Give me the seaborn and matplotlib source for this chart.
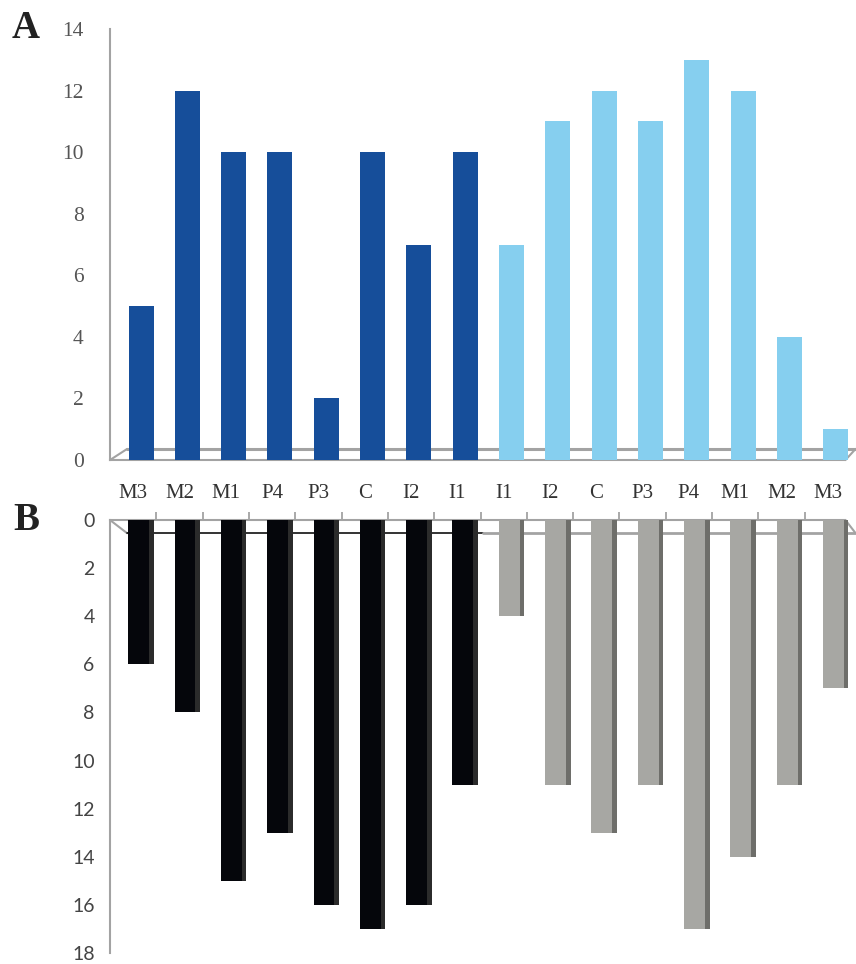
import matplotlib
matplotlib.use("Agg")
import matplotlib.pyplot as plt
from matplotlib.font_manager import FontProperties
import seaborn as sns
import pandas as pd
import numpy as np

categories = ["M3", "M2", "M1", "P4", "P3", "C", "I2", "I1",
              "I1", "I2", "C", "P3", "P4", "M1", "M2", "M3"]
side = ["left"] * 8 + ["right"] * 8
values_a = [5, 12, 10, 10, 2, 10, 7, 10, 7, 11, 12, 11, 13, 12, 4, 1]
values_b = [6, 8, 15, 13, 16, 17, 16, 11, 4, 11, 13, 11, 17, 14, 11, 7]
yticks_a = [0, 2, 4, 6, 8, 10, 12, 14]
yticks_b = [0, 2, 4, 6, 8, 10, 12, 14, 16, 18]

df = pd.DataFrame({"pos": list(range(len(categories))), "cat": categories,
                   "side": side, "a": values_a, "b": values_b})

sns.set_style("white")
plt.rcParams["font.family"] = ["Liberation Serif", "DejaVu Serif"]

fig = plt.figure(figsize=(8.56, 9.64), dpi=100)
W, H = 856, 964
axA = fig.add_axes([110 / W, 1 - 460 / H, 741 / W, 431 / H])
axB = fig.add_axes([110 / W, 1 - 953 / H, 741 / W, 433 / H])

spine_col = "#A3A3A3"
SHIFT = 0.17

# ---------- Panel A ----------
sns.barplot(data=df, x="pos", y="a", hue="side", dodge=False, width=0.54,
            palette={"left": "#164E9A", "right": "#86CFEF"}, legend=False,
            saturation=1, ax=axA, zorder=3)
for p in axA.patches:
    p.set_x(p.get_x() + SHIFT)
    p.set_edgecolor("none")
axA.set_xlim(-0.5, 15.5)
axA.set_ylim(0, 14)
axA.set_yticks(yticks_a)
axA.set_yticklabels([str(t) for t in yticks_a])
axA.set_xticks(range(len(categories)))
axA.set_xticklabels(categories)
axA.set_xticks(np.arange(0.5, 15.4, 1), minor=True)
axA.tick_params(axis="x", which="major", length=0, pad=17, labelcolor="#333333",
                labelfontfamily="Liberation Serif", labelsize=15)
axA.tick_params(axis="x", which="minor", length=6, direction="out", color=spine_col, width=1.3)
axA.tick_params(axis="y", length=7, direction="out", color=spine_col, width=1.3, pad=12,
                labelcolor="#555555", labelfontfamily="Liberation Serif", labelsize=15.5)
axA.set_xlabel("")
axA.set_ylabel("")
for s in ["top", "right"]:
    axA.spines[s].set_visible(False)
for s in ["left", "bottom"]:
    axA.spines[s].set_color(spine_col)
    axA.spines[s].set_linewidth(1.5)
axA.spines["bottom"].set_bounds(-0.5, 15.38)
# floor
axA.plot([-0.5, -0.13], [0, 0.36], color=spine_col, lw=1.5, clip_on=False, zorder=2)
axA.plot([-0.13, 15.6], [0.36, 0.36], color=spine_col, lw=2.2, clip_on=False, zorder=2)
axA.plot([15.38, 15.6], [0.0, 0.36], color=spine_col, lw=1.5, clip_on=False, zorder=2)

# ---------- Panel B ----------
sns.barplot(data=df, x="pos", y="b", hue="side", dodge=False, width=0.55,
            palette={"left": "#2b2b2b", "right": "#6E6E6A"}, legend=False,
            saturation=1, ax=axB, zorder=3)
n_side = len(axB.patches)
sns.barplot(data=df, x="pos", y="b", hue="side", dodge=False, width=0.45,
            palette={"left": "#05060B", "right": "#A7A7A3"}, legend=False,
            saturation=1, ax=axB, zorder=4)
for i, p in enumerate(axB.patches):
    p.set_edgecolor("none")
    if i < n_side:
        p.set_x(p.get_x() + SHIFT)
    else:
        p.set_x(p.get_x() + SHIFT - 0.05)
axB.set_xlim(-0.5, 15.5)
axB.set_ylim(18, 0)
axB.set_yticks(yticks_b)
axB.set_yticklabels([str(t) for t in yticks_b])
axB.set_xticks(np.arange(0.5, 15.4, 1))
axB.set_xticklabels([])
axB.xaxis.set_ticks_position("top")
axB.tick_params(axis="x", length=6, direction="out", color=spine_col, width=1.3)
axB.tick_params(axis="y", length=5, direction="out", color=spine_col, width=1.3, pad=6,
                labelcolor="#444444", labelfontfamily="Lato", labelsize=14)
axB.set_xlabel("")
axB.set_ylabel("")
for s in ["bottom", "right"]:
    axB.spines[s].set_visible(False)
for s in ["left", "top"]:
    axB.spines[s].set_color(spine_col)
    axB.spines[s].set_linewidth(1.5)
axB.spines["top"].set_bounds(-0.5, 15.38)
axB.plot([-0.5, -0.13], [0, 0.55], color=spine_col, lw=1.5, clip_on=False, zorder=2)
axB.plot([-0.13, 7.55], [0.55, 0.55], color="#111111", lw=1.2, clip_on=False, zorder=2)
axB.plot([7.55, 15.6], [0.55, 0.55], color=spine_col, lw=2.0, clip_on=False, zorder=2)
axB.plot([15.38, 15.6], [0.0, 0.55], color=spine_col, lw=1.5, clip_on=False, zorder=2)

# panel letters
fig.text(12 / W, 1 - 38 / H, "A", fontproperties=FontProperties(
    family=["Liberation Serif"], size=28, weight="bold"),
    color="#222222", ha="left", va="baseline")
fig.text(13 / W, 1 - 530 / H, "B", fontproperties=FontProperties(
    family=["Liberation Serif"], size=28, weight="bold"),
    color="#222222", ha="left", va="baseline")

fig.savefig("out.png", dpi=100)
